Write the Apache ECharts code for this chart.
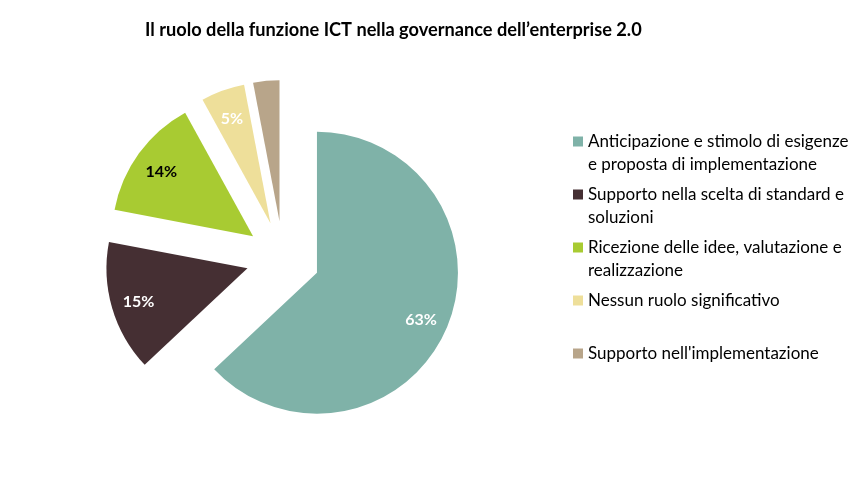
<!DOCTYPE html>
<html>
<head>
<meta charset="utf-8">
<script src="https://cdn.jsdelivr.net/npm/echarts@6/dist/echarts.min.js"></script>
<style>html,body{margin:0;padding:0;background:#fff}#c{width:866px;height:477px}</style>
</head>
<body>
<div id="c"></div>
<script>
const categories = [
  "Anticipazione e stimolo di esigenze e proposta di implementazione",
  "Supporto nella scelta di standard e soluzioni",
  "Ricezione delle idee, valutazione e realizzazione",
  "Nessun ruolo significativo",
  "Supporto nell'implementazione"
];
const legendLabels = [
  "Anticipazione e stimolo di esigenze\ne proposta di implementazione",
  "Supporto nella scelta di standard e\nsoluzioni",
  "Ricezione delle idee, valutazione e\nrealizzazione",
  "Nessun ruolo significativo\n",
  "Supporto nell'implementazione\n"
];
const values = [63, 15, 14, 5, 3];
const colors = ["#7FB2A8", "#452F33", "#A8CB32", "#EEDF9A", "#B8A58A"];
const labelColors = ["#ffffff", "#ffffff", "#000000", "#ffffff", null];

const FONT = "Lato, 'Open Sans', sans-serif";
const chart = echarts.init(document.getElementById('c'), null, {renderer: 'canvas'});

const pieData = categories.map((n, i) => ({
  name: n, value: values[i], selected: true,
  itemStyle: {color: colors[i]}
}));
const labelData = categories.map((n, i) => ({
  name: n, value: values[i], selected: true,
  itemStyle: {color: 'rgba(0,0,0,0)'},
  label: labelColors[i] ? {show: true, color: labelColors[i]} : {show: false}
}));

chart.setOption({
  animation: false,
  title: {
    text: "Il ruolo della funzione ICT nella governance dell\u2019enterprise 2.0",
    left: 140, top: 16,
    textStyle: {fontFamily: FONT, fontWeight: 'bold', fontSize: 18.2, color: '#000'}
  },
  legend: {
    orient: 'vertical',
    left: 573, top: 107,
    padding: 0,
    itemWidth: 10, itemHeight: 10,
    itemGap: -16,
    icon: 'rect',
    selectedMode: false,
    data: categories,
    formatter: name => '\n' + legendLabels[categories.indexOf(name)],
    textStyle: {fontFamily: FONT, fontSize: 17, color: '#000', lineHeight: 23}
  },
  series: [
    {
      type: 'pie',
      center: [283, 258],
      radius: [0, 141],
      startAngle: 90,
      clockwise: true,
      selectedMode: 'multiple',
      selectedOffset: 37,
      label: {show: false},
      labelLine: {show: false},
      emphasis: {disabled: true},
      silent: true,
      data: pieData
    },
    {
      type: 'pie',
      center: [283, 260],
      radius: [80, 141],
      startAngle: 90,
      clockwise: true,
      selectedMode: 'multiple',
      selectedOffset: 37,
      label: {show: true, position: 'inside', formatter: '{c}%', fontFamily: FONT, fontWeight: 'bold', fontSize: 16},
      labelLine: {show: false},
      emphasis: {disabled: true},
      silent: true,
      data: labelData
    }
  ]
});
</script>
</body>
</html>
